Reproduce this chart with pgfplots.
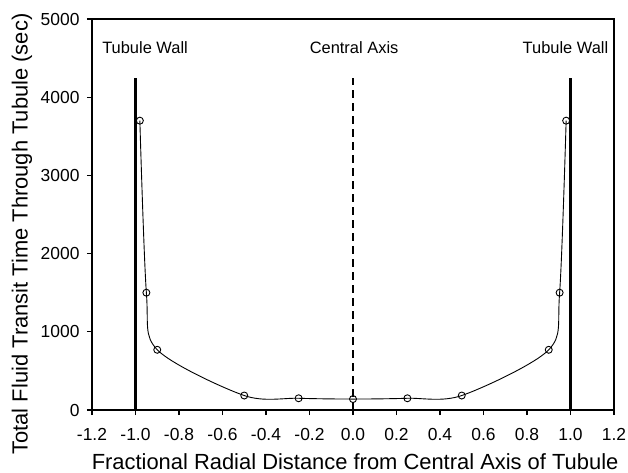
\documentclass[border=0pt]{standalone}
\usepackage{fontspec}
\setmainfont{Liberation Sans}
\usepackage{pgfplots}
\pgfplotsset{compat=1.18}
\begin{document}
\begin{tikzpicture}
\begin{axis}[
  at={(0,0)}, anchor=south west,
  width=522bp, height=391bp, scale only axis,
  xmin=-1.2, xmax=1.2, ymin=0, ymax=5000,
  xtick={-1.2,-1.0,-0.8,-0.6,-0.4,-0.2,0,0.2,0.4,0.6,0.8,1.0,1.2},
  xticklabels={-1.2,-1.0,-0.8,-0.6,-0.4,-0.2,0.0,0.2,0.4,0.6,0.8,1.0,1.2},
  ytick={0,1000,2000,3000,4000,5000},
  yticklabels={0,1000,2000,3000,4000,5000},
  tick align=outside, xtick pos=bottom, ytick pos=left,
  major tick length=5bp,
  tick style={line width=1.1bp, black},
  axis line style={line width=1.3bp},
  tick label style={font=\fontsize{17.5}{20}\selectfont},
  xticklabel style={anchor=center, yshift=-19bp},
  yticklabel style={anchor=east, xshift=-4bp},
  label style={font=\fontsize{22}{26}\selectfont},
  xlabel={Fractional Radial Distance from Central Axis of Tubule},
  ylabel={Total Fluid Transit Time Through Tubule (sec)},
  xlabel style={at={(axis description cs:0.504,-0.133)}, anchor=center},
  ylabel style={at={(axis description cs:-0.134,0.45)}, anchor=center},
]
\addplot[black, line width=2.2bp] coordinates {(-1,0) (-1,4250)};
\addplot[black, line width=2.2bp] coordinates {(1,0) (1,4250)};
\addplot[black, line width=2.2bp, dash pattern=on 8bp off 5bp] coordinates {(0,0) (0,4250)};
\addplot[black, line width=0.9bp, smooth, mark=o, mark size=3.5bp, mark options={solid, line width=0.9bp}]
  coordinates {(-0.98,3700) (-0.95,1500) (-0.90,770) (-0.50,185) (-0.25,150) (0,140) (0.25,150) (0.5,185) (0.9,770) (0.95,1500) (0.98,3700)};
\node[font=\fontsize{16.5}{19}\selectfont] at (axis cs:-0.956,4629) {Tubule Wall};
\node[font=\fontsize{16.5}{19}\selectfont] at (axis cs:0.005,4629) {Central Axis};
\node[font=\fontsize{16.5}{19}\selectfont] at (axis cs:0.977,4629) {Tubule Wall};
\end{axis}
\pgfresetboundingbox
\path[use as bounding box] (-92bp,-63bp) rectangle (536bp,410bp);
\end{tikzpicture}
\end{document}
